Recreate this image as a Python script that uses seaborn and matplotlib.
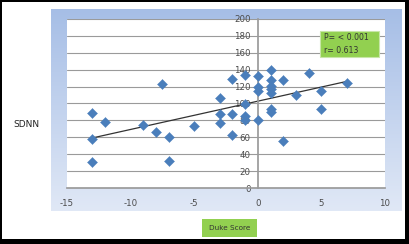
import numpy as np
import pandas as pd
import seaborn as sns
import matplotlib.pyplot as plt
from matplotlib.patches import Rectangle

# Valores
duke = [-13, -13, -13, -12, -9, -8, -7.5, -7, -7, -5,
        -3, -3, -3, -2, -2, -2, -1, -1, -1, -1,
        0, 0, 0, 0, 1, 1, 1, 1, 1, 1,
        1, 2, 2, 3, 4, 5, 5, 7]
sdnn = [89, 58, 31, 78, 74, 66, 123, 60, 32, 73,
        106, 88, 77, 129, 87, 63, 134, 85, 80, 99,
        132, 120, 115, 80, 140, 128, 121, 117, 112, 93,
        90, 128, 56, 110, 136, 115, 93, 124]
y_ticks = [0, 20, 40, 60, 80, 100, 120, 140, 160, 180, 200]
x_ticks = [-15, -10, -5, 0, 5, 10]
stats_text = "P= < 0.001\nr= 0.613"

df = pd.DataFrame({"Duke Score": duke, "SDNN": sdnn})

sns.set_theme(style="white")
plt.rcParams["font.family"] = ["DejaVu Sans"]
plt.rcParams["axes.unicode_minus"] = False

W, H = 409, 244
fig = plt.figure(figsize=(W / 100, H / 100), dpi=100)
fig.patch.set_facecolor("white")

def box(x0, y0, x1, y1):
    # converte pixels (origem no topo) para fracoes da figura
    return [x0 / W, 1 - y1 / H, (x1 - x0) / W, (y1 - y0) / H]

# moldura preta (mais grossa à direita e embaixo)
for b in [box(0, 0, 2, H), box(0, 0, W, 1.5), box(405, 0, W, H), box(0, 239, W, H)]:
    fig.add_artist(Rectangle((b[0], b[1]), b[2], b[3], transform=fig.transFigure,
                             facecolor="black", edgecolor="none"))

# painel azul em degradê
bg = fig.add_axes(box(51, 9, 402, 211))
grad = np.linspace(0, 1, 100).reshape(-1, 1)
top = np.array([166, 190, 230]) / 255
bot = np.array([224, 232, 246]) / 255
img = top + (bot - top) * grad[..., None]
bg.imshow(img, aspect="auto", extent=[0, 1, 0, 1])
bg.set_axis_off()

ax = fig.add_axes(box(67, 19, 385, 188))
ax.set_facecolor("white")
for v in y_ticks[1:]:
    ax.axhline(v, color="#9a9a9a", linewidth=0.8, zorder=0)

sns.scatterplot(data=df, x="Duke Score", y="SDNN", marker="D", s=26,
                color="#4a7ebb", edgecolor="#4a7ebb", linewidth=0.3,
                ax=ax, zorder=3)
sns.regplot(data=df, x="Duke Score", y="SDNN", scatter=False, ci=None,
            color="#333333", line_kws={"linewidth": 0.9}, ax=ax)

ax.set_xlim(-15, 10)
ax.set_ylim(0, 200)
ax.set_xticks(x_ticks)
ax.set_yticks(y_ticks)
ax.set_xlabel("")
ax.set_ylabel("")
ax.spines["left"].set_position(("data", 0))
ax.spines["left"].set_color("#9a9a9a")
ax.spines["bottom"].set_color("#9a9a9a")
ax.spines["right"].set_visible(False)
ax.spines["top"].set_visible(False)
ax.tick_params(axis="both", labelsize=6.2, colors="#9a9a9a",
               labelcolor="#4a4a4a", length=3, width=0.8, direction="out",
               pad=2)
ax.tick_params(axis="x", pad=5)

# caixa verde com estatísticas
fig.add_artist(Rectangle((320 / W, 1 - 57 / H), 59 / W, 26 / H,
                         transform=fig.transFigure, facecolor="#92d050",
                         edgecolor="#c8e6a8", linewidth=0.8, zorder=0.5))
fig.text(324 / W, 1 - 44 / H, stats_text, fontsize=5.6, color="#333333",
         va="center", ha="left", linespacing=1.6)

# rótulos dos eixos
fig.text(26 / W, 1 - 125 / H, "SDNN", fontsize=6.5, color="#222222",
         ha="center", va="center")
fig.add_artist(Rectangle((202 / W, 1 - 237 / H), 55 / W, 18 / H,
                         transform=fig.transFigure, facecolor="#92d050",
                         edgecolor="none"))
fig.text(229.5 / W, 1 - 228 / H, "Duke Score", fontsize=5.2, color="#333333",
         ha="center", va="center")

fig.savefig("out.png", dpi=100)
